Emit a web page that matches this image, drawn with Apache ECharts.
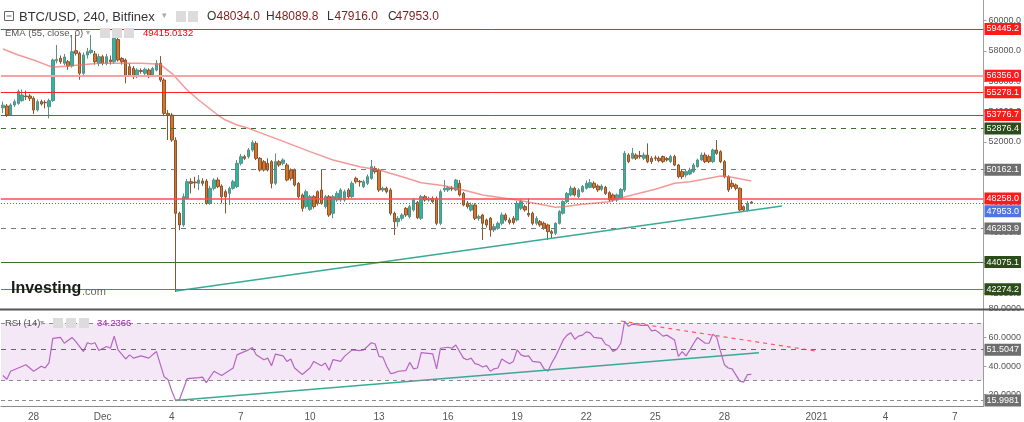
<!DOCTYPE html>
<html><head><meta charset="utf-8">
<script src="https://cdn.jsdelivr.net/npm/echarts/dist/echarts.min.js"></script>
<style>html,body{margin:0;padding:0;background:#fff}#c{width:1024px;height:422px}</style>
</head><body><div id="c"></div>
<script>
// ---------- DATA ----------
const openP = [
54250,54366,53772,54432,54540,54718,55026,55026,54872,54102,
54652,54608,54322,54718,57357,57511,57181,57291,57005,58017,
57840,56520,57730,57900,57800,57180,57620,57180,57400,57290,
58750,57500,57400,56960,56850,56300,56700,56520,56740,56410,
56740,57180,56080,53880,53770,52100,47287,46517,48276,49376,
49350,49266,49420,49420,47946,48936,49485,49090,48716,48606,
48936,49046,50585,51025,51025,51465,51900,50915,50695,50585,
50695,49266,50695,50585,50475,50145,50145,49266,48496,47726,
47550,48386,48716,48826,47726,48386,47287,48166,48166,48166,
48826,48386,49595,49400,49046,49266,49595,50255,50145,48826,
48936,48826,47287,46736,46956,47616,47067,47506,48000,46956,
48386,48166,48276,48276,46627,48826,48826,48940,48830,49270,
48600,47950,47500,47840,46960,47180,46850,46960,46190,46300,
46630,47180,46850,46960,46850,47620,47730,47290,47290,46630,
46740,46630,46520,46080,45970,46630,47290,48060,48500,48940,
48390,48720,48940,49000,49270,49090,48870,49000,48650,48500,
48170,48280,48830,51130,50920,51130,51090,50920,51130,50920,
50950,50920,51030,50900,50700,51030,50475,50035,49815,49880,
50035,50365,50805,51135,51025,50695,51465,51355,50695,49705,
49266,49155,48936,47726,47506,48034];
const highP = [
54650,54500,54550,54800,55450,55450,55380,55150,55000,54800,
54780,54750,54850,57500,58390,57700,57800,57400,59050,59050,
57950,57900,58200,59050,58000,57800,57750,57800,57700,59200,
58950,57600,57500,57200,57000,56850,56850,56900,56850,56950,
57400,57660,56200,54100,53900,52300,47400,48600,49550,49600,
49700,49815,49600,49550,49100,49600,49650,49200,48850,49050,
49500,50800,51200,51150,51600,52100,52050,51000,50800,50915,
50800,51245,50800,50915,50600,50250,50250,49350,48600,48850,
48500,48500,48800,50145,48500,48500,48500,48750,48950,48850,
48950,49400,49705,49485,49500,49850,50805,50400,50250,49050,
49050,48950,47400,47100,47300,47700,47850,48300,48100,48500,
48500,48400,48400,48400,48850,49485,49100,49100,49550,49480,
48700,48100,48000,47950,47200,47250,46950,47050,46600,46750,
47350,47300,47000,47100,48100,48200,47850,48280,47400,47100,
46850,46750,46600,46200,46700,47500,48150,48700,49100,49050,
48950,49150,49450,49550,49400,49200,49200,49100,48750,48600,
48600,48950,51400,51250,51600,51250,51400,51300,51900,51050,
51100,51050,51100,51000,51150,51150,50550,50150,50150,50300,
50600,50900,51300,51300,51150,51550,52124,51450,50800,49800,
49500,49250,49000,47800,48100,48090];
const lowP = [
53900,53650,53700,54300,54450,54650,54760,54700,53838,54000,
54400,54212,53553,54650,57181,57150,57050,56750,56900,57700,
56100,56400,57500,57800,57100,57000,57050,57050,57100,57150,
57300,57100,55860,56300,56150,56200,56500,56400,56200,56300,
56650,55950,53700,52124,52000,42100,46180,46400,48200,48606,
48936,48826,49100,47850,47850,48800,48950,47946,47287,47836,
48850,48950,50450,50800,50900,51350,50800,50035,50050,50050,
48936,49150,50350,50450,49400,49450,49050,48250,47400,47600,
47450,47600,47800,47850,47600,47050,46956,48050,48050,48050,
48250,48300,49250,49046,48950,49150,49500,49900,48700,48700,
48600,47150,45857,46407,46800,47050,46950,47400,46900,46850,
48050,48050,47950,46500,46500,48700,48700,48750,48750,48400,
47750,47600,47400,46850,46800,45530,46350,45750,46050,46200,
46500,46750,46550,46550,46750,47500,47400,47050,46500,46500,
46400,46200,45530,45640,45850,46550,47200,47950,48400,48400,
48300,48650,48850,48950,48900,48700,48750,48500,48050,48050,
48050,48200,48700,50600,50850,50800,50900,50800,50600,50550,
50750,50650,50600,50700,50600,50400,49600,49550,49650,49800,
49950,50300,50750,50600,50600,50600,51150,50600,49600,48700,
48900,48800,47450,47400,47400,47916];
const closeP = [
54420,53772,54432,54652,55312,55092,54982,54872,54102,54652,
54498,54580,54718,57401,57445,57291,57600,57005,57951,57840,
56520,57730,57950,58050,57290,57620,57180,57620,57300,58830,
57400,57290,56410,56410,56300,56740,56650,56790,56300,56850,
57180,56080,53880,53770,52124,47287,46517,48386,49376,49266,
49300,49485,49266,47946,48936,49485,49046,48386,48386,48936,
49376,50585,51025,50915,51465,51950,50915,50145,50145,50145,
49266,50695,50475,50805,49485,49595,49155,48386,47616,48716,
48386,47726,47946,47946,48386,47177,48386,48606,48826,48716,
48386,49266,49375,49350,49376,49705,50365,50035,48826,48936,
48716,47287,46736,46956,47177,47177,47726,48166,47000,48386,
48166,48276,48056,46627,48716,48936,48980,48900,49480,48500,
47840,47730,47840,46960,47070,46630,46520,46190,46410,46630,
47180,46850,46680,46680,47950,48060,47510,47180,46630,46950,
46520,46300,46080,45970,46630,47400,48060,48600,48940,48500,
48830,49050,49270,49310,49000,48830,49090,48600,48170,48170,
48500,48870,51250,50700,51250,50920,51030,51130,50700,50700,
50900,50760,50700,50810,51030,50475,49705,49705,50035,50145,
50475,50805,51135,50695,50695,51465,51245,50695,49705,48826,
49046,48936,47506,47506,47946,47953];

// EMA(55) read at candle indices: [index, value]
const emaPoints = [[0,58127],[4,57730],[8,57400],[13,56917],[17,57005],[25,57181],[36,57181],[41,57115],[44,56521],[48,55422],[51,54763],[53,54366],[56,53773],[58,53443],[61,53114],[64,52894],[71,52234],[80,51355],[86,50805],[93,50365],[98,50145],[104,49705],[109,49310],[115,49111],[120,48826],[125,48496],[134,48166],[140,47880],[144,47682],[146,47726],[151,47880],[158,48056],[160,48232],[165,48562],[170,48870],[175,49266],[179,49375],[184,49595],[187,49749],[190,49661],[195,49415]];

// RSI(14) read at candle indices: [index, value]
const rsiPoints = [[0,33.4],[1,30.7],[2,36.4],[4,38.7],[6,41],[8,36.4],[10,39.9],[11,38.7],[12,42.2],[13,59.4],[15,60.1],[16,56],[18,60.1],[19,57.1],[21,50.2],[22,56.4],[23,55.5],[24,56.4],[25,50.9],[27,53.7],[28,52.5],[29,61],[30,51.4],[32,45],[33,47.9],[34,45.6],[36,47.2],[38,45.6],[40,50.2],[42,32.6],[43,30.7],[44,22.6],[45,16.0],[46,16.6],[47,23.8],[48,31.2],[51,31.9],[52,32.3],[53,28.4],[55,36.4],[57,33.4],[60,38.7],[61,47.9],[62,49.1],[64,51.4],[65,53],[66,47.9],[68,44.5],[69,45.6],[70,40.3],[71,48.4],[73,47.2],[74,43.3],[75,45],[76,38.7],[78,34.1],[79,36.4],[80,38.7],[81,43.3],[83,40.3],[84,42.2],[85,37.1],[86,44.5],[88,43.3],[89,46.8],[91,51.4],[93,50.9],[94,51.4],[96,56.4],[97,55.5],[98,46.8],[99,46.3],[100,39.9],[101,34.8],[102,35.3],[103,36.4],[105,36.9],[106,42.6],[107,38.1],[108,38.7],[109,49.5],[112,48.6],[113,38.1],[114,52.5],[116,53.2],[117,52.5],[118,54.8],[120,45.6],[121,44.5],[122,45.6],[123,41.7],[124,41],[125,39.4],[126,40.3],[127,36.4],[128,38.1],[129,38.7],[130,45],[131,43.3],[132,41.7],[133,43.3],[134,51.4],[135,47.9],[136,46.8],[137,47.2],[138,43.3],[140,42.6],[141,38.1],[142,36.4],[143,42.2],[144,46.8],[146,58.3],[147,61.7],[148,63.3],[149,58.8],[150,61],[151,61.7],[152,64],[153,63.3],[154,60.1],[156,59.4],[157,55.3],[158,54.1],[159,50.2],[160,51.9],[161,56],[162,71.6],[163,67.9],[164,69.3],[166,68.6],[168,68.6],[169,64.7],[170,65.2],[171,63.3],[172,61],[173,61.7],[175,58.3],[176,46.8],[177,50.2],[178,47.2],[179,51.4],[180,56],[181,60.1],[183,56],[184,56],[185,62.4],[186,60.1],[187,50.2],[188,41],[189,38.7],[190,38.1],[192,29.5],[193,28.8],[194,34.1],[195,34.2366]];

// Horizontal price levels and their labels
const priceLevels = [59445.2, 56356.0, 55278.1, 53776.7, 52876.4, 50162.1, 48258.0, 47953.0, 46283.9, 44075.1, 42274.2];
const priceLevelText = ['59445.2','56356.0','55278.1','53776.7','52876.4','50162.1','48258.0','47953.0','46283.9','44075.1','42274.2'];
const emaLast = 49415.0132, emaLastText = '49415.0';
const rsiGuides = [70, 30];
const rsiLevels = [51.5047, 15.9981];
const rsiLevelText = ['51.5047', '15.9981'];
const rsiLast = 34.2366, rsiLastText = '34.2366';

// Drawn trend lines: [index, value]
const priceTrend = [[45,42165],[203,47770]];
const rsiSupport = [[45,16.0],[197,49.3]];
const rsiResist = [[161,71.6],[212,50.5]];

// Axis ticks
const priceTicks = [42000,44000,46000,48000,50000,52000,54000,56000,58000,60000];
const rsiTicks = [20,40,60,80];
const tickDates = ['2021-11-28 00:00','2021-12-01 00:00','2021-12-04 00:00','2021-12-07 00:00','2021-12-10 00:00','2021-12-13 00:00','2021-12-16 00:00','2021-12-19 00:00','2021-12-22 00:00','2021-12-25 00:00','2021-12-28 00:00','2022-01-01 00:00','2022-01-04 00:00','2022-01-07 00:00'];
const tickLabels = ['28','Dec','4','7','10','13','16','19','22','25','28','2021','4','7'];

// Header texts
const headerTitle = 'BTC/USD, 240, Bitfinex';
const headerOHLC = [['O','48034.0'],['H','48089.8'],['L','47916.0'],['C','47953.0']];
const emaTitle = 'EMA (55, close, 0)', emaValueText = '49415.0132';
const rsiTitle = 'RSI (14)', rsiValueText = '34.2366';

// ---------- BUILD ----------
const pad = n => (n < 10 ? '0' : '') + n;
const categories = [];
const t0 = Date.UTC(2021, 10, 26, 16);
for (let k = 0; k < 256; k++) {
  const d = new Date(t0 + k * 4 * 3600 * 1000);
  categories.push(d.getUTCFullYear() + '-' + pad(d.getUTCMonth() + 1) + '-' + pad(d.getUTCDate()) + ' ' + pad(d.getUTCHours()) + ':00');
}
const candles = closeP.map((c, i) => [openP[i], c, lowP[i], highP[i]]);

const FONT = 'Liberation Sans';
const RED = '#ff1a1a', GREEN_BOX = '#2c4d1a', GRAY_BOX = '#6e6e6e', BLUE_BOX = '#4f74e6', PURPLE_BOX = '#9c2aa8';
const levelStyles = [
  {c:'#ff2020', w:1, t:'solid', b:RED},
  {c:'#f7a3a3', w:2, t:'solid', b:RED},
  {c:'#ff2020', w:1, t:'solid', b:RED},
  {c:'#ff2020', w:1, t:'solid', b:RED},
  {c:'#3f6e2c', w:1, t:[5,5], b:GREEN_BOX},
  {c:'#777777', w:1, t:[5,5], b:GRAY_BOX},
  {c:'#ff4d4d', w:1.5, t:'solid', b:RED},
  {c:'#4a6ee0', w:1, t:[1,2], b:BLUE_BOX, off:[0,8]},
  {c:'#777777', w:1, t:[5,5], b:GRAY_BOX},
  {c:'#3f6e2c', w:1, t:'solid', b:GREEN_BOX},
  {c:'#5d8a4a', w:1, t:'solid', b:GREEN_BOX}
];
function boxLabel(text, bg, off) {
  const l = {show:true, position:'end', distance:1, formatter:text, backgroundColor:bg, color:'#fff',
    fontSize:9, fontFamily:FONT, padding:[2,2,1,2], lineHeight:9};
  if (off) l.offset = off;
  return l;
}
const priceMarks = priceLevels.map((v, i) => ({
  yAxis: v,
  lineStyle: {color: levelStyles[i].c, width: levelStyles[i].w, type: levelStyles[i].t},
  label: boxLabel(priceLevelText[i], levelStyles[i].b, levelStyles[i].off)
}));
const rsiMarks = [
  ...rsiGuides.map(v => ({yAxis: v, lineStyle:{color:'#8c8c8c', width:1, type:[4,4]}, label:{show:false}})),
  {yAxis: rsiLevels[0], lineStyle:{color:'#6a6a6a', width:1, type:[5,5]}, label: boxLabel(rsiLevelText[0], GRAY_BOX)},
  {yAxis: rsiLevels[1], lineStyle:{color:'#8c8c8c', width:1, type:[4,3]}, label: boxLabel(rsiLevelText[1], GRAY_BOX)},
  {yAxis: rsiLast, lineStyle:{opacity:0}, label: boxLabel(rsiLastText, PURPLE_BOX)}
];

const axisLabelStyle = {color:'#555', fontSize:9, fontFamily:FONT, margin:5};
function iconBoxes(xs, y, h) {
  return xs.map(x => ({type:'rect', shape:{x:x, y:y, width:10, height:h}, style:{fill:'#dcdcdc'}, z:100}));
}
function txt(x, y, text, size, color, weight) {
  return {type:'text', x:x, y:y, z:100, style:{text:text, fill:color, fontSize:size, fontFamily:FONT, fontWeight:weight||'normal', verticalAlign:'middle', align:'left'}};
}
const ohlcX = [207, 266, 327, 388];
const graphics = [
  {type:'rect', shape:{x:0, y:308.5, width:1024, height:2}, style:{fill:'#555'}, z:90},
  {type:'rect', shape:{x:4.5, y:11.5, width:9, height:9}, style:{fill:'#fff', stroke:'#666', lineWidth:1}, z:100},
  {type:'rect', shape:{x:6.5, y:15.5, width:5, height:1}, style:{fill:'#666'}, z:100},
  txt(19, 17, headerTitle, 13, '#333'),
  txt(162, 16, '▾', 9, '#aaa'),
  ...iconBoxes([176, 188], 11, 11),
  ...headerOHLC.flatMap((p, i) => [txt(ohlcX[i], 17, p[0], 12, '#333'), txt(ohlcX[i] + (p[0] === 'O' ? 9.5 : p[0] === 'H' ? 9 : 7.5), 17, p[1], 12, '#7f1d1d')]),
  txt(5, 33, emaTitle, 9.5, '#555'),
  txt(86, 32.5, '▾', 8, '#aaa'),
  ...iconBoxes([100, 112, 124], 28, 10),
  txt(143, 33, emaValueText, 9.5, '#ff0000'),
  txt(5, 323, rsiTitle, 9.5, '#555'),
  txt(40, 322.5, '▾', 8, '#aaa'),
  ...iconBoxes([53, 66, 79], 318, 10),
  txt(97, 323, rsiValueText, 9.5, '#9c27b0'),
  txt(11, 288.5, 'Investing', 16, '#1a1a1a', 'bold'),
  txt(82, 292, '.com', 11, '#666')
];

const option = {
  animation: false,
  backgroundColor: '#fff',
  grid: [
    {left: 1, right: 38, top: 0, height: 309},
    {left: 1, right: 38, top: 309, height: 98}
  ],
  xAxis: [
    {type:'category', gridIndex:0, data:categories, boundaryGap:true,
     axisLine:{show:false}, axisTick:{show:false}, axisLabel:{show:false}, splitLine:{show:false}},
    {type:'category', gridIndex:1, data:categories, boundaryGap:true,
     axisLine:{show:true, lineStyle:{color:'#8a8a8a'}}, axisTick:{show:false},
     axisLabel:{color:'#555', fontSize:10, fontFamily:FONT, margin:6,
       interval: (idx, val) => tickDates.indexOf(val) >= 0,
       formatter: val => { const k = tickDates.indexOf(val); return k >= 0 ? tickLabels[k] : ''; }},
     splitLine:{show:false}}
  ],
  yAxis: [
    {type:'value', gridIndex:0, position:'right', min:40977, max:61359,
     axisLine:{show:true, lineStyle:{color:'#a0a0a0'}},
     axisTick:{show:true, length:3, customValues:priceTicks, lineStyle:{color:'#a0a0a0'}},
     axisLabel:Object.assign({customValues:priceTicks, formatter: v => v.toFixed(1)}, axisLabelStyle),
     splitLine:{show:false}},
    {type:'value', gridIndex:1, position:'right', min:12.07, max:80,
     axisLine:{show:true, lineStyle:{color:'#a0a0a0'}},
     axisTick:{show:true, length:3, customValues:rsiTicks, lineStyle:{color:'#a0a0a0'}},
     axisLabel:Object.assign({customValues:rsiTicks, formatter: v => v.toFixed(4)}, axisLabelStyle),
     splitLine:{show:false}}
  ],
  series: [
    {type:'candlestick', xAxisIndex:0, yAxisIndex:0, data:candles, barWidth:3,
     itemStyle:{color:'#27b8a6', color0:'#dc7426', borderColor:'#5e8f86', borderColor0:'#8a5430', borderWidth:1},
     markLine:{silent:true, symbol:['none','none'], animation:false, data:priceMarks}},
    {type:'line', xAxisIndex:0, yAxisIndex:0, data:emaPoints, showSymbol:false, smooth:false,
     lineStyle:{color:'rgba(240,110,110,0.7)', width:1.5}, z:3,
     markLine:{silent:true, symbol:['none','none'], animation:false,
       data:[{yAxis:emaLast, lineStyle:{opacity:0}, label:boxLabel(emaLastText, RED)}]}},
    {type:'line', xAxisIndex:0, yAxisIndex:0, data:priceTrend, showSymbol:false,
     lineStyle:{color:'#3aa996', width:1.5}, z:4},
    {type:'line', xAxisIndex:1, yAxisIndex:1, data:rsiPoints, showSymbol:false,
     lineStyle:{color:'#b566c4', width:1.2}, z:3,
     markArea:{silent:true, itemStyle:{color:'rgba(156,39,176,0.11)'}, data:[[{yAxis:30},{yAxis:70}]]},
     markLine:{silent:true, symbol:['none','none'], animation:false, data:rsiMarks}},
    {type:'line', xAxisIndex:1, yAxisIndex:1, data:rsiSupport, showSymbol:false,
     lineStyle:{color:'#3aa996', width:1.5}, z:4},
    {type:'line', xAxisIndex:1, yAxisIndex:1, data:rsiResist, showSymbol:false,
     lineStyle:{color:'#ff5a5a', width:1.2, type:[4,4]}, z:4}
  ],
  graphic: graphics
};
const chart = echarts.init(document.getElementById('c'), null, {renderer:'canvas'});
chart.setOption(option);
</script>
</body></html>
